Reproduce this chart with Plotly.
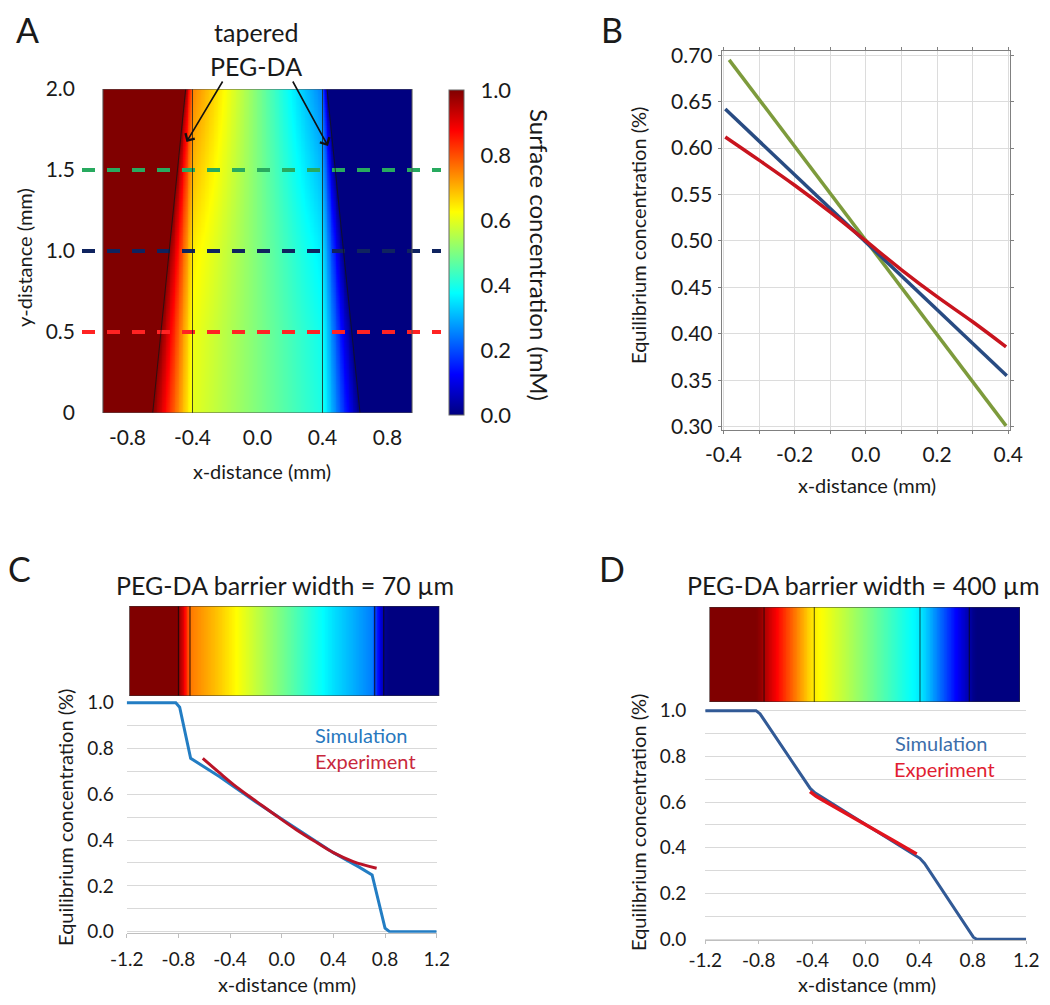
import numpy as np
import plotly.graph_objects as go

# The page body keeps the browser's default 8px margin, so the figure is drawn
# 8px in from the top-left corner; coordinates below are given in window pixels.
OFF = 8
FW, FH = 1034, 989


def px(v):
    return (v - OFF) / FW


def py(v):
    return 1 - (v - OFF) / FH


FONT = "Lato"
TXT = "#1a1a1a"

JET = [[0.0, "rgb(0,0,128)"], [0.125, "rgb(0,0,255)"], [0.375, "rgb(0,255,255)"],
       [0.625, "rgb(255,255,0)"], [0.875, "rgb(255,0,0)"], [1.0, "rgb(128,0,0)"]]

# ---------------- Panel A data ----------------
A_heat_x = [-0.951, 0.951]
A_heat_y = [0.0, 2.0]
A_walls = [-0.40, 0.40]
A_taper_left = [-0.645, -0.442]     # outer PEG-DA edge at y=0 and y=2
A_taper_right = [0.631, 0.428]
A_wall_y = [0.0, 0.5, 1.0, 1.5, 2.0]
A_wall_conc = [0.60, 0.613, 0.643, 0.695, 0.75]
A_line_levels = [1.5, 1.0, 0.5]
A_line_colors = ["rgb(40,170,95)", "rgb(15,35,95)", "rgb(255,35,35)"]
A_xticks = [-0.8, -0.4, 0.0, 0.4, 0.8]
A_xtick_text = ["-0.8", "-0.4", "0.0", "0.4", "0.8"]
A_yticks = [0.0, 0.5, 1.0, 1.5, 2.0]
A_ytick_text = ["0", "0.5", "1.0", "1.5", "2.0"]
A_cbar_ticks = [0.0, 0.2, 0.4, 0.6, 0.8, 1.0]
A_cbar_text = ["0.0", "0.2", "0.4", "0.6", "0.8", "1.0"]

# ---------------- Panel B data ----------------
B_green_x = [-0.384, 0.394]
B_green_y = [0.695, 0.301]
B_blue_x = [-0.395, 0.396]
B_blue_y = [0.642, 0.355]
B_red_x = [-0.395, -0.3, -0.2, -0.1, 0.0, 0.1, 0.2, 0.3, 0.394]
B_red_y = [0.612, 0.587, 0.560, 0.531, 0.500, 0.469, 0.440, 0.413, 0.386]
B_xticks = [-0.4, -0.2, 0.0, 0.2, 0.4]
B_xtick_text = ["-0.4", "-0.2", "0.0", "0.2", "0.4"]
B_xminor = [-0.3, -0.1, 0.1, 0.3]
B_yticks = [0.30, 0.35, 0.40, 0.45, 0.50, 0.55, 0.60, 0.65, 0.70]
B_ytick_text = ["0.30", "0.35", "0.40", "0.45", "0.50", "0.55", "0.60", "0.65", "0.70"]

# ---------------- Panel C data ----------------
C_sim_x = [-1.2, -0.82, -0.79, -0.705, -0.48, -0.2, 0.0, 0.2, 0.4, 0.6, 0.70, 0.80, 0.835, 1.2]
C_sim_y = [1.0, 1.0, 0.98, 0.757, 0.677, 0.566, 0.492, 0.418, 0.345, 0.282, 0.248, 0.015, 0.0, 0.0]
C_exp_x = [-0.611, -0.478, -0.348, -0.194, -0.039, 0.116, 0.271, 0.40, 0.554, 0.735]
C_exp_y = [0.757, 0.692, 0.631, 0.568, 0.505, 0.444, 0.389, 0.345, 0.306, 0.277]
C_barrier = [-0.80, -0.71, 0.72, 0.79]

# ---------------- Panel D data ----------------
D_sim_x = [-1.2, -0.82, -0.79, -0.415, -0.38, 0.0, 0.405, 0.44, 0.805, 0.83, 1.2]
D_sim_y = [1.0, 1.0, 0.986, 0.66, 0.641, 0.502, 0.354, 0.332, 0.009, 0.0, 0.0]
D_exp_x = [-0.416, -0.37, -0.33, -0.2, 0.0, 0.2, 0.381]
D_exp_y = [0.646, 0.625, 0.612, 0.567, 0.501, 0.434, 0.373]
D_barrier = [-0.76, -0.384, 0.406, 0.775]

CD_xticks = [-1.2, -0.8, -0.4, 0.0, 0.4, 0.8, 1.2]
CD_xtick_text = ["-1.2", "-0.8", "-0.4", "0.0", "0.4", "0.8", "1.2"]
CD_yticks = [0.0, 0.2, 0.4, 0.6, 0.8, 1.0]
CD_ytick_text = ["0.0", "0.2", "0.4", "0.6", "0.8", "1.0"]
CD_yminor = [0.1, 0.3, 0.5, 0.7, 0.9]

# ---------------- geometry (window pixels) ----------------
A_scale, A_center = 162.5, 257.5
A_dom = [82, 441]
A_xrange = [(A_dom[0] - A_center) / A_scale, (A_dom[1] - A_center) / A_scale]

fig = go.Figure()

# ---- Panel A heatmap ----
nx, ny = 380, 200
xe = np.linspace(A_heat_x[0], A_heat_x[1], nx + 1)
ye = np.linspace(A_heat_y[0], A_heat_y[1], ny + 1)
xc = 0.5 * (xe[:-1] + xe[1:])
yc = 0.5 * (ye[:-1] + ye[1:])
Z = np.zeros((ny, nx))
for i, yv in enumerate(yc):
    lo = np.interp(yv, A_heat_y, A_taper_left)
    ro = np.interp(yv, A_heat_y, A_taper_right)
    cl = np.interp(yv, A_wall_y, A_wall_conc)
    Z[i] = np.interp(xc, [A_heat_x[0], lo, A_walls[0], A_walls[1], ro, A_heat_x[1]],
                     [1.0, 1.0, cl, 1 - cl, 0.0, 0.0])

fig.add_trace(go.Heatmap(
    x=xe, y=ye, z=Z, colorscale=JET, zmin=0, zmax=1, xaxis="x", yaxis="y", hoverinfo="skip",
    colorbar=dict(x=px(449), xanchor="left", xpad=0, y=py(90), yanchor="top", ypad=0,
                  len=325, lenmode="pixels", thickness=15, thicknessmode="pixels",
                  outlinecolor="#666666", outlinewidth=1,
                  tickvals=A_cbar_ticks, ticktext=A_cbar_text, ticks="outside", ticklen=12,
                  tickcolor="rgba(0,0,0,0)", tickfont=dict(family=FONT, size=22, color=TXT))))

for lvl, col in zip(A_line_levels, A_line_colors):
    fig.add_trace(go.Scatter(x=A_xrange, y=[lvl, lvl], mode="lines", xaxis="x", yaxis="y",
                             line=dict(color=col, width=4, dash="13px,12px"),
                             showlegend=False, hoverinfo="skip"))

shapes = []
for t in (A_taper_left, A_taper_right):
    shapes.append(dict(type="line", xref="x", yref="y", x0=t[0], y0=A_heat_y[0], x1=t[1], y1=A_heat_y[1],
                       line=dict(color="rgba(20,20,20,0.75)", width=1)))
for wv in A_walls:
    shapes.append(dict(type="line", xref="x", yref="y", x0=wv, y0=A_heat_y[0], x1=wv, y1=A_heat_y[1],
                       line=dict(color="rgba(30,30,30,0.8)", width=1)))
shapes.append(dict(type="rect", xref="x", yref="y", x0=A_heat_x[0], y0=A_heat_y[0], x1=A_heat_x[1],
                   y1=A_heat_y[1], line=dict(color="#555555", width=1)))

# ---- Panel B ----
for xs, ys, col, shp in ((B_green_x, B_green_y, "rgb(125,155,60)", "linear"),
                         (B_blue_x, B_blue_y, "rgb(40,75,130)", "linear"),
                         (B_red_x, B_red_y, "rgb(200,20,30)", "spline")):
    fig.add_trace(go.Scatter(x=xs, y=ys, mode="lines", xaxis="x2", yaxis="y2",
                             line=dict(color=col, width=3.5, shape=shp), showlegend=False, hoverinfo="skip"))


# ---- Panels C & D: strips and curves ----
def strip(sim_x, sim_y, rng, xa, ya):
    xs = np.linspace(rng[0], rng[1], 401)
    cs = 0.5 * (xs[:-1] + xs[1:])
    zz = np.interp(cs, sim_x, sim_y)
    fig.add_trace(go.Heatmap(x=xs, y=[0, 1], z=[zz], colorscale=JET, zmin=0, zmax=1,
                             showscale=False, xaxis=xa, yaxis=ya, hoverinfo="skip"))


C_strip_px = [129.3, 439.3]
C_plot_px = [126.7, 436.7]
C_s = (C_plot_px[1] - C_plot_px[0]) / 2.4
C_strip_rng = [-1.2 + (C_strip_px[0] - C_plot_px[0]) / C_s, 1.2 + (C_strip_px[1] - C_plot_px[1]) / C_s]
D_strip_px = [709.5, 1020.0]
D_plot_px = [705.2, 1026.2]
D_s = (D_plot_px[1] - D_plot_px[0]) / 2.4
D_strip_rng = [-1.2 + (D_strip_px[0] - D_plot_px[0]) / D_s, 1.2 + (D_strip_px[1] - D_plot_px[1]) / D_s]

strip(C_sim_x, C_sim_y, C_strip_rng, "x3", "y3")
strip(D_sim_x, D_sim_y, D_strip_rng, "x5", "y5")

for bx in C_barrier:
    shapes.append(dict(type="line", xref="x3", yref="y3", x0=bx, x1=bx, y0=0, y1=1,
                       line=dict(color="rgba(10,10,10,0.75)", width=1.2)))
for bx in D_barrier:
    shapes.append(dict(type="line", xref="x5", yref="y5", x0=bx, x1=bx, y0=0, y1=1,
                       line=dict(color="rgba(10,10,10,0.6)", width=1.2)))
for xa, ya, rng in (("x3", "y3", C_strip_rng), ("x5", "y5", D_strip_rng)):
    shapes.append(dict(type="rect", xref=xa, yref=ya, x0=rng[0], x1=rng[1], y0=0, y1=1,
                       line=dict(color="#333333", width=1)))

fig.add_trace(go.Scatter(x=C_sim_x, y=C_sim_y, mode="lines", xaxis="x4", yaxis="y4",
                         line=dict(color="rgb(35,125,195)", width=3), showlegend=False, hoverinfo="skip"))
fig.add_trace(go.Scatter(x=C_exp_x, y=C_exp_y, mode="lines", xaxis="x4", yaxis="y4",
                         line=dict(color="rgb(185,20,40)", width=3, shape="spline"),
                         showlegend=False, hoverinfo="skip"))
fig.add_trace(go.Scatter(x=D_sim_x, y=D_sim_y, mode="lines", xaxis="x6", yaxis="y6",
                         line=dict(color="rgb(50,90,150)", width=3), showlegend=False, hoverinfo="skip"))
fig.add_trace(go.Scatter(x=D_exp_x, y=D_exp_y, mode="lines", xaxis="x6", yaxis="y6",
                         line=dict(color="rgb(225,20,30)", width=3.5), showlegend=False, hoverinfo="skip"))

# ---------------- axes ----------------
tf = lambda s: dict(family=FONT, size=s, color=TXT)
GRID = "#d9d9d9"

layout_axes = dict(
    xaxis=dict(domain=[px(A_dom[0]), px(A_dom[1])], range=A_xrange, anchor="y", automargin=False,
               tickmode="array", tickvals=A_xticks, ticktext=A_xtick_text,
               showgrid=False, zeroline=False, showline=False, ticks="",
               tickfont=tf(21), ticklabelstandoff=10),
    yaxis=dict(domain=[py(413), py(89)], range=[0, 2], anchor="x", automargin=False,
               tickmode="array", tickvals=A_yticks, ticktext=A_ytick_text,
               showgrid=False, zeroline=False, showline=False, ticks="",
               tickfont=tf(21), ticklabelstandoff=6),
    xaxis2=dict(domain=[px(721.7), px(1010)], range=[-0.405, 0.405], anchor="y2", automargin=False,
                tickmode="array", tickvals=B_xticks, ticktext=B_xtick_text,
                showgrid=True, gridcolor="#dcdcdc", zeroline=False,
                minor=dict(tickmode="array", tickvals=B_xminor, showgrid=True, gridcolor="#dcdcdc",
                           ticks="outside", ticklen=3, tickcolor="#808080"),
                showline=True, linecolor="#808080", mirror="allticks",
                ticks="outside", ticklen=3, tickcolor="#808080",
                tickfont=tf(21), ticklabelstandoff=3),
    yaxis2=dict(domain=[py(430), py(51)], range=[0.2965, 0.7045], anchor="x2", automargin=False,
                tickmode="array", tickvals=B_yticks, ticktext=B_ytick_text,
                showgrid=True, gridcolor="#dcdcdc", zeroline=False,
                showline=True, linecolor="#808080", mirror="allticks",
                ticks="outside", ticklen=3, tickcolor="#808080",
                tickfont=tf(21), ticklabelstandoff=1),
    xaxis3=dict(domain=[px(C_strip_px[0]), px(C_strip_px[1])], range=C_strip_rng, anchor="y3",
                visible=False, automargin=False),
    yaxis3=dict(domain=[py(696), py(606)], range=[0, 1], anchor="x3", visible=False, automargin=False),
    xaxis5=dict(domain=[px(D_strip_px[0]), px(D_strip_px[1])], range=D_strip_rng, anchor="y5",
                visible=False, automargin=False),
    yaxis5=dict(domain=[py(702), py(607)], range=[0, 1], anchor="x5", visible=False, automargin=False),
)

for xa, ya, xdom, ydom, ystand, xstand, xtl in (("xaxis4", "yaxis4", C_plot_px, [932.8, 700.4], 12, 5, 4),
                                                ("xaxis6", "yaxis6", D_plot_px, [940.4, 708.4], 18, 0, 3)):
    ax_id = "y" + xa[-1]
    layout_axes[xa] = dict(domain=[px(xdom[0]), px(xdom[1])], range=[-1.2, 1.2], anchor=ax_id,
                           automargin=False,
                           tickmode="array", tickvals=CD_xticks, ticktext=CD_xtick_text,
                           showgrid=False, zeroline=False, showline=True, linecolor="#bfbfbf",
                           ticks="outside", ticklen=xtl, tickcolor="#bfbfbf",
                           tickfont=tf(19), ticklabelstandoff=xstand)
    layout_axes[ya] = dict(domain=[py(ydom[0]), py(ydom[1])], range=[-0.005, 1.01], anchor="x" + xa[-1],
                           automargin=False,
                           tickmode="array", tickvals=CD_yticks, ticktext=CD_ytick_text,
                           showgrid=True, gridcolor=GRID, zeroline=False, showline=False, ticks="",
                           minor=dict(tickmode="array", tickvals=CD_yminor, showgrid=True, gridcolor=GRID),
                           tickfont=tf(19), ticklabelstandoff=ystand)


# ---------------- annotations ----------------
def ann(text, x, y, size, color=TXT, angle=0):
    return dict(text=text, x=px(x), y=py(y), xref="paper", yref="paper", showarrow=False,
                xanchor="center", yanchor="middle", textangle=angle,
                font=dict(family=FONT, size=size, color=color))


annotations = [
    ann("A", 27, 29, 34), ann("B", 612, 29, 34), ann("C", 19, 568, 34), ann("D", 612, 568, 34),
    ann("tapered", 256, 32, 25), ann("PEG-DA", 256, 66, 25),
    ann("x-distance (mm)", 262, 471, 20), ann("y-distance (mm)", 24, 258, 20, angle=-90),
    ann("Surface concentration (mM)", 540, 255, 24, angle=90),
    ann("x-distance (mm)", 867, 485, 20), ann("Equilibrium concentration (%)", 638, 236, 20, angle=-90),
    ann("PEG-DA barrier width = 70 µm", 285, 585, 25),
    ann("PEG-DA barrier width = 400 µm", 863, 585, 25),
    ann("Simulation", 361, 735, 20, "rgb(40,120,190)"), ann("Experiment", 365, 761, 20, "rgb(200,40,60)"),
    ann("Simulation", 941, 743, 20, "rgb(60,110,170)"), ann("Experiment", 944, 769, 20, "rgb(225,30,50)"),
    ann("Equilibrium concentration (%)", 65, 818, 20, angle=-90), ann("x-distance (mm)", 287, 984, 20),
    ann("Equilibrium concentration (%)", 638, 823, 20, angle=-90), ann("x-distance (mm)", 867, 984, 20),
]
for tip, tail in (((186.5, 142), (223.5, 80)), ((328, 146), (292, 80))):
    annotations.append(dict(text="", x=px(tip[0]), y=py(tip[1]), xref="paper", yref="paper",
                            showarrow=True, ax=tail[0] - tip[0], ay=tail[1] - tip[1],
                            arrowhead=4, arrowsize=1.3, arrowwidth=1.6, arrowcolor="#111111", standoff=0))

fig.update_layout(
    width=FW, height=FH, margin=dict(l=0, r=0, t=0, b=0, autoexpand=False),
    paper_bgcolor="white", plot_bgcolor="white", showlegend=False,
    font=dict(family=FONT, color=TXT),
    shapes=shapes, annotations=annotations, **layout_axes)

fig.write_html("out.html")
